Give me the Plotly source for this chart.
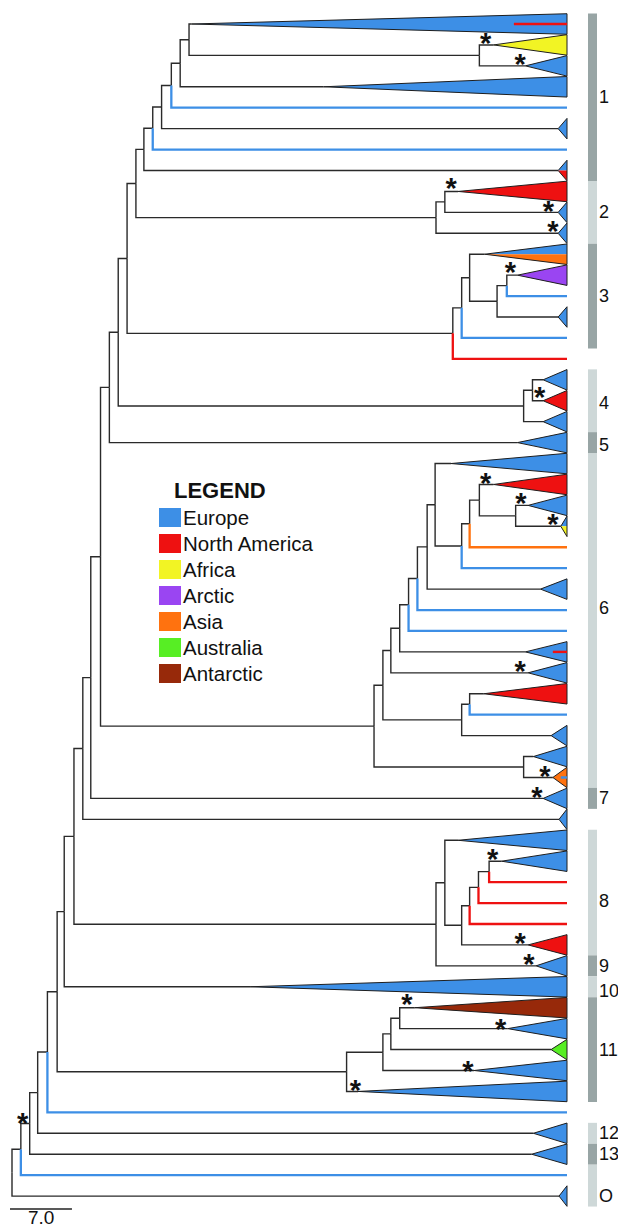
import plotly.graph_objects as go

# ------------------------------------------------------------------ data
REGION_COLORS = {
    "EU": "#3d8fe6", "NA": "#ee1111", "AF": "#f2f424", "AR": "#9a45f2",
    "AS": "#ff720f", "AU": "#57ee24", "AN": "#97290a",
}
LEGEND_NAMES = ["Europe", "North America", "Africa", "Arctic", "Asia", "Australia", "Antarctic"]
LEGEND_CODES = ["EU", "NA", "AF", "AR", "AS", "AU", "AN"]

TIP_DEPTH = 62.7  # depth of all tips (scale units)

# tips, top to bottom (one row each)
tip_kind = ["tri", "tri", "tri", "tri", "line", "tri", "line", "tri", "tri", "tri",
            "tri", "tri", "tri", "line", "tri", "line", "line", "tri", "tri", "tri",
            "tri", "tri", "tri", "tri", "tri", "line", "line", "tri", "line", "line",
            "tri", "tri", "tri", "line", "tri", "tri", "tri", "tri", "tri", "tri",
            "tri", "line", "line", "line", "tri", "tri", "tri", "tri", "tri", "tri",
            "tri", "tri", "line", "tri", "tri", "line", "tri"]
tip_region = ["EU", "AF", "EU", "EU", "EU", "EU", "EU", "EU", "NA", "EU",
              "EU", "EU", "AR", "EU", "EU", "EU", "NA", "EU", "NA", "EU",
              "EU", "EU", "NA", "EU", "EU", "AS", "EU", "EU", "EU", "EU",
              "EU", "EU", "NA", "EU", "EU", "EU", "AS", "EU", "EU", "EU",
              "EU", "NA", "NA", "NA", "NA", "EU", "EU", "AN", "EU", "AU",
              "EU", "EU", "EU", "EU", "EU", "EU", "EU"]
# second colour for split triangles (lower half)
tip_region2 = {7: "NA", 11: "AS", 24: "AF"}
# apex depth of collapsed clades (None for single lines)
tip_apex = [20.3, 54.4, 58.0, 35.2, None, 61.7, None, 61.7, 50.4, 61.7,
            61.7, 53.4, 57.1, None, 61.7, None, None, 60.0, 60.0, 60.0,
            57.1, 49.6, 54.4, 58.3, 62.0, None, None, 59.7, None, None,
            58.0, 58.3, 53.3, None, 60.9, 58.9, 61.1, 60.0, 61.8, 50.4,
            55.3, None, None, None, 58.3, 59.2, 26.9, 45.5, 56.0, 60.9,
            52.2, 39.1, None, 58.9, 58.7, None, 61.8]
# short inner lines drawn inside some triangles: row -> (region, start depth)
tip_inner = {0: ("NA", 56.7), 30: ("NA", 61.1), 36: ("EU", 62.0)}

node_name = ["Na", "Nb", "Nc", "Nd", "Ne", "Nf", "Ng", "N2a", "N2b", "Nh",
             "N3d", "N3c", "N3b", "N3a", "N3", "Ni", "N4a", "N4", "Nj", "Nk",
             "N6b", "N6a", "N6c", "N6d", "N6e", "N6f", "N6g", "N6h", "N6i", "N6j",
             "N6n", "N6m", "N6k", "N6o", "N6", "Nl", "Nm", "Nn",
             "N8e", "N8d", "N8c", "N8b", "N8a", "N8", "No", "Np",
             "N11c", "N11b", "N11a", "N11", "Nq", "Nr", "Ns", "Nt", "Nu", "root"]
node_depth = [20.0, 52.8, 19.0, 18.0, 16.9, 15.9, 14.9, 48.9, 47.9, 14.0,
              55.9, 54.8, 51.7, 50.8, 49.8, 13.0, 58.8, 57.8, 12.0, 11.0,
              56.9, 52.8, 51.7, 50.8, 47.8, 46.9, 45.8, 44.8, 43.8, 42.8,
              51.7, 50.8, 41.9, 57.8, 40.9, 10.0, 8.9, 8.0,
              53.9, 52.7, 51.7, 50.8, 48.9, 47.9, 7.0, 5.9,
              43.8, 42.8, 41.9, 37.8, 5.1, 4.0, 2.9, 2.0, 1.0, 0.0]
node_children = [["t0", "Nb"], ["t1", "t2"], ["Na", "t3"], ["Nc", "t4"], ["Nd", "t5"],
                 ["Ne", "t6"], ["Nf", "t7"], ["t8", "t9"], ["N2a", "t10"], ["Ng", "N2b"],
                 ["t12", "t13"], ["N3d", "t14"], ["t11", "N3c"], ["N3b", "t15"], ["N3a", "t16"],
                 ["Nh", "N3"], ["t17", "t18"], ["N4a", "t19"], ["Ni", "N4"], ["Nj", "t20"],
                 ["t23", "t24"], ["t22", "N6b"], ["N6a", "t25"], ["N6c", "t26"], ["t21", "N6d"],
                 ["N6e", "t27"], ["N6f", "t28"], ["N6g", "t29"], ["N6h", "t30"], ["N6i", "t31"],
                 ["t32", "t33"], ["N6n", "t34"], ["N6j", "N6m"], ["t35", "t36"], ["N6k", "N6o"],
                 ["Nk", "N6"], ["Nl", "t37"], ["Nm", "t38"],
                 ["t40", "t41"], ["N8e", "t42"], ["N8d", "t43"], ["N8c", "t44"], ["t39", "N8b"],
                 ["N8a", "t45"], ["Nn", "N8"], ["No", "t46"],
                 ["t47", "t48"], ["N11c", "t49"], ["N11b", "t50"], ["N11a", "t51"],
                 ["Np", "N11"], ["Nq", "t52"], ["Nr", "t53"], ["Ns", "t54"], ["Nt", "t55"], ["Nu", "t56"]]

# support asterisks (depth, row)
star_depth = [53.5, 57.4, 49.6, 60.6, 61.1, 56.3, 59.6, 53.5, 57.5, 61.1, 57.4,
              60.2, 59.3, 54.3, 57.4, 58.4, 44.6, 55.2, 51.5, 38.8, 1.2]
star_row = [0.72, 1.72, 7.65, 8.74, 9.7, 11.66, 17.63, 21.7, 22.7, 23.7, 30.7,
            35.7, 36.74, 39.7, 43.7, 44.7, 46.6, 47.8, 49.8, 50.7, 52.3]

# clade bars: first row, last row, shade
bar_first = [0, 8, 11, 17, 20, 21, 37, 39, 45, 46, 47, 53, 54, 55]
bar_last = [7, 10, 15, 19, 20, 36, 37, 44, 45, 46, 51, 53, 54, 56]
bar_dark = [True, False, True, False, True, False, True, False, True, False, True, False, True, False]
clade_labels = ["1", "2", "3", "4", "5", "6", "7", "8", "9", "10", "11", "12", "13", "O"]
clade_label_row = [3.5, 9.0, 13.0, 18.1, 20.1, 27.9, 37.0, 41.9, 45.0, 46.2, 49.0, 53.0, 54.0, 56.0]

SCALE_LEN = 7.0
SCALE_LABEL = "7.0"

# ------------------------------------------------------------------ layout helpers
W, H = 618, 1227
PX_ROOT, PX_TIP = 12.0, 567.0
KX = (PX_TIP - PX_ROOT) / TIP_DEPTH
X0 = -PX_ROOT / KX
X1 = X0 + W / KX
ROW0, ROWH = 24.0, 20.93
Y0 = -ROW0 / ROWH
Y1 = Y0 + H / ROWH


def xd(px):
    return X0 + px / KX


def yd(py):
    return Y0 + py / ROWH


# ------------------------------------------------------------------ tree layout
idx = {n: i for i, n in enumerate(node_name)}
ypos, xend = {}, {}
for r in range(len(tip_kind)):
    ypos["t%d" % r] = float(r)
    xend["t%d" % r] = TIP_DEPTH if tip_kind[r] == "line" else tip_apex[r]


def layout(n):
    if n in ypos:
        return ypos[n]
    ch = node_children[idx[n]]
    ys = [layout(c) for c in ch]
    ypos[n] = (ys[0] + ys[-1]) / 2.0
    xend[n] = node_depth[idx[n]]
    return ypos[n]


layout("root")

fig = go.Figure()

blk_x, blk_y = [], []
col_segs = {}
for n, ch in zip(node_name, node_children):
    px_, py_ = node_depth[idx[n]], ypos[n]
    for c in ch:
        xs = [px_, px_, xend[c], None]
        ys = [py_, ypos[c], ypos[c], None]
        if c.startswith("t") and tip_kind[int(c[1:])] == "line":
            reg = tip_region[int(c[1:])]
            col_segs.setdefault(reg, ([], []))
            col_segs[reg][0].extend(xs)
            col_segs[reg][1].extend(ys)
        else:
            blk_x.extend(xs)
            blk_y.extend(ys)

fig.add_trace(go.Scatter(x=blk_x, y=blk_y, mode="lines",
                         line=dict(color="#2a2a2a", width=1.4), hoverinfo="skip",
                         showlegend=False))
for reg, (xs, ys) in col_segs.items():
    fig.add_trace(go.Scatter(x=xs, y=ys, mode="lines",
                             line=dict(color=REGION_COLORS[reg], width=2.3),
                             hoverinfo="skip", showlegend=False))

HALF = 0.49
for r, kind in enumerate(tip_kind):
    if kind != "tri":
        continue
    ax = tip_apex[r]
    if r in tip_region2:
        fig.add_trace(go.Scatter(x=[ax, TIP_DEPTH, TIP_DEPTH, ax], y=[r, r - HALF, r, r],
                                 fill="toself", fillcolor=REGION_COLORS[tip_region[r]],
                                 mode="lines", line=dict(width=0), hoverinfo="skip",
                                 showlegend=False))
        fig.add_trace(go.Scatter(x=[ax, TIP_DEPTH, TIP_DEPTH, ax], y=[r, r, r + HALF, r],
                                 fill="toself", fillcolor=REGION_COLORS[tip_region2[r]],
                                 mode="lines", line=dict(width=0), hoverinfo="skip",
                                 showlegend=False))
        fig.add_trace(go.Scatter(x=[ax, TIP_DEPTH, TIP_DEPTH, ax], y=[r, r - HALF, r + HALF, r],
                                 mode="lines", line=dict(color="#1e1e1e", width=1),
                                 hoverinfo="skip", showlegend=False))
    else:
        fig.add_trace(go.Scatter(x=[ax, TIP_DEPTH, TIP_DEPTH, ax], y=[r, r - HALF, r + HALF, r],
                                 fill="toself", fillcolor=REGION_COLORS[tip_region[r]],
                                 mode="lines", line=dict(color="#1e1e1e", width=1),
                                 hoverinfo="skip", showlegend=False))
    if r in tip_inner:
        reg, x0 = tip_inner[r]
        fig.add_trace(go.Scatter(x=[x0, TIP_DEPTH], y=[r, r], mode="lines",
                                 line=dict(color=REGION_COLORS[reg], width=2.4),
                                 hoverinfo="skip", showlegend=False))

# asterisks (glyph sits high in the text box, so shift anchor down a little)
STAR_SHIFT = 0.34
fig.add_trace(go.Scatter(x=star_depth, y=[s + STAR_SHIFT for s in star_row], mode="text",
                         text=["<b>*</b>"] * len(star_row),
                         textfont=dict(family="Liberation Sans, Arial", size=29, color="#111111"),
                         textposition="middle center", hoverinfo="skip", showlegend=False))

# clade bars and labels
shapes = []
annotations = []
BX0, BX1 = xd(588), xd(597)
for f, l, dark in zip(bar_first, bar_last, bar_dark):
    shapes.append(dict(type="rect", xref="x", yref="y", x0=BX0, x1=BX1,
                       y0=f - 0.5, y1=l + 0.5, line=dict(width=0),
                       fillcolor="#98a5a5" if dark else "#ced8d8", layer="below"))
for lab, lr in zip(clade_labels, clade_label_row):
    annotations.append(dict(x=xd(596.5), y=lr, xref="x", yref="y", text=lab, showarrow=False,
                            xanchor="left", yanchor="middle",
                            font=dict(family="Liberation Sans, Arial", size=18, color="#111111")))

# scale bar
SB_X0 = xd(10)
SB_ROW = yd(1209)
fig.add_trace(go.Scatter(x=[SB_X0, SB_X0 + SCALE_LEN], y=[SB_ROW, SB_ROW], mode="lines",
                         line=dict(color="#222222", width=1.4), hoverinfo="skip", showlegend=False))
annotations.append(dict(x=SB_X0 + SCALE_LEN / 2, y=yd(1217), xref="x", yref="y", text=SCALE_LABEL,
                        showarrow=False, xanchor="center", yanchor="middle",
                        font=dict(family="Liberation Sans, Arial", size=19, color="#111111")))

# legend box
annotations.append(dict(x=xd(172), y=yd(490), xref="x", yref="y", text="<b>LEGEND</b>",
                        showarrow=False, xanchor="left", yanchor="middle",
                        font=dict(family="Liberation Sans, Arial", size=22, color="#111111")))
for i, (name, code) in enumerate(zip(LEGEND_NAMES, LEGEND_CODES)):
    cy = 517.5 + 26.0 * i
    shapes.append(dict(type="rect", xref="x", yref="y", x0=xd(159), x1=xd(181),
                       y0=yd(cy - 9.5), y1=yd(cy + 9.5), fillcolor=REGION_COLORS[code],
                       line=dict(width=0)))
    annotations.append(dict(x=xd(181), y=yd(cy), xref="x", yref="y", text=name, showarrow=False,
                            xanchor="left", yanchor="middle",
                            font=dict(family="Liberation Sans, Arial", size=20.5, color="#111111")))

fig.update_layout(
    width=W, height=H, margin=dict(l=0, r=0, t=0, b=0),
    paper_bgcolor="white", plot_bgcolor="white",
    xaxis=dict(range=[X0, X1], visible=False, fixedrange=True),
    yaxis=dict(range=[Y1, Y0], visible=False, fixedrange=True),
    shapes=shapes, annotations=annotations, showlegend=False,
)

fig.write_html("out.html", config={"displayModeBar": False},
               post_script="document.body.style.margin='0';")
